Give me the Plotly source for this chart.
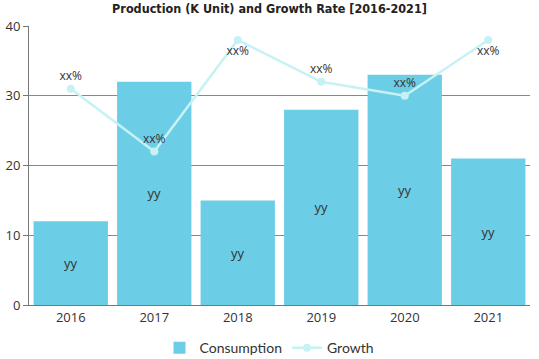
import plotly.graph_objects as go

years = ["2016", "2017", "2018", "2019", "2020", "2021"]
consumption = [12, 32, 15, 28, 33, 21]
growth = [31, 22, 38, 32, 30, 38]
bar_labels = ["yy"] * 6
growth_labels = ["xx%"] * 6
growth_pos = ["top center", "top center", "bottom center", "top center", "top center", "bottom center"]

fig = go.Figure()
fig.add_trace(go.Bar(
    x=years, y=consumption, name="Consumption",
    marker=dict(color="#6ccde6", line=dict(width=0)),
    text=bar_labels, textposition="inside", insidetextanchor="middle",
    textfont=dict(color="#333333", size=13, family="Open Sans, Arial, sans-serif"),
    hoverinfo="skip",
))
fig.add_trace(go.Scatter(
    x=years, y=growth, name="Growth", mode="lines+markers+text",
    line=dict(color="#c6f2f4", width=2.5),
    marker=dict(color="#c6f2f4", size=8),
    text=growth_labels, textposition=growth_pos,
    textfont=dict(color="#333333", size=12, family="Open Sans, Arial, sans-serif"),
    cliponaxis=False,
))

fig.update_layout(
    width=539, height=359,
    margin=dict(l=29, r=9, t=26, b=54, autoexpand=False),
    paper_bgcolor="white", plot_bgcolor="white",
    bargap=0.11,
    title=dict(text="<b>Production (K Unit) and Growth Rate [2016-2021]</b>",
               x=0.5, xanchor="center", y=0.975, yanchor="middle",
               font=dict(family="DejaVu Sans Condensed, Liberation Sans Narrow, sans-serif", size=12.5, color="#222222")),
    showlegend=True,
    legend=dict(orientation="h", x=0.5, xanchor="center", y=0.03, yanchor="middle",
                xref="container", yref="container", itemwidth=30,
                font=dict(family="Lato, Open Sans, sans-serif", size=14, color="#333333")),
    xaxis=dict(showline=True, linecolor="#777777", linewidth=1, ticks="", automargin=False,
               tickfont=dict(family="Open Sans, Arial, sans-serif", size=13, color="#333333"),
               showgrid=False),
    yaxis=dict(range=[0, 40], dtick=10, showline=True, linecolor="#777777", linewidth=1,
               ticks="outside", ticklen=5, tickcolor="#777777", automargin=False,
               showgrid=True, gridcolor="#888888", gridwidth=1, zeroline=False,
               tickfont=dict(family="Open Sans, Arial, sans-serif", size=13, color="#333333")),
)

fig.write_html("out.html", post_script="document.body.style.margin='0';",
               config={"displayModeBar": False})
